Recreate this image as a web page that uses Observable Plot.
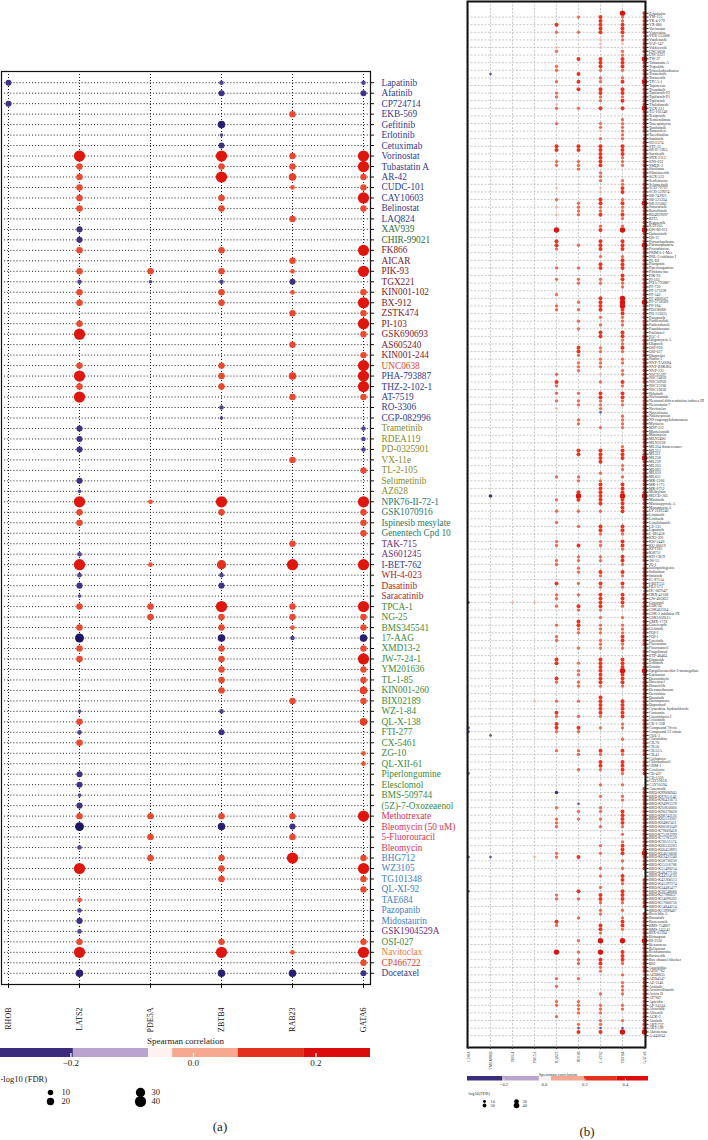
<!DOCTYPE html>
<html><head><meta charset="utf-8">
<script src="https://cdn.jsdelivr.net/npm/d3@7"></script>
<script src="https://cdn.jsdelivr.net/npm/@observablehq/plot@0.6"></script>
<style>
body{margin:0;background:#fff;}
#fig{position:relative;width:708px;height:1140px;overflow:hidden;font-family:"Liberation Serif",serif;background:#fff;}
.cap{position:absolute;font-size:13px;color:#222;width:40px;text-align:center;font-family:"Liberation Serif",serif;}
</style></head><body><div id="fig"></div>
<script>
// ---------- Panel (a) data ----------
const genesA = ["RHOB","LATS2","PDE5A","ZBTB4","RAB23","GATA6"];
const drugsA = ["Lapatinib","Afatinib","CP724714","EKB-569","Gefitinib","Erlotinib","Cetuximab","Vorinostat","Tubastatin A","AR-42","CUDC-101","CAY10603","Belinostat","LAQ824","XAV939","CHIR-99021","FK866","AICAR","PIK-93","TGX221","KIN001-102","BX-912","ZSTK474","PI-103","GSK690693","AS605240","KIN001-244","UNC0638","PHA-793887","THZ-2-102-1","AT-7519","RO-3306","CGP-082996","Trametinib","RDEA119","PD-0325901","VX-11e","TL-2-105","Selumetinib","AZ628","NPK76-II-72-1","GSK1070916","Ispinesib mesylate","Genentech Cpd 10","TAK-715","AS601245","I-BET-762","WH-4-023","Dasatinib","Saracatinib","TPCA-1","NG-25","BMS345541","17-AAG","XMD13-2","JW-7-24-1","YM201636","TL-1-85","KIN001-260","BIX02189","WZ-1-84","QL-X-138","FTI-277","CX-5461","ZG-10","QL-XII-61","Piperlongumine","Elesclomol","BMS-509744","(5Z)-7-Oxozeaenol","Methotrexate","Bleomycin (50 uM)","5-Fluorouracil","Bleomycin","BHG712","WZ3105","TG101348","QL-XI-92","TAE684","Pazopanib","Midostaurin","GSK1904529A","OSI-027","Navitoclax","CP466722","Docetaxel"];
// value codes per drug (one char per drug, "." = not significant)
const aRHOB  = ["b.b.......","..........","..........","..........","..........","..........","..........","..........","......"].join("");
const aLATS2 = [".......522","222.bb2.2a","22.25..252","5..bbb..bt","522..a5abt","2.2d22....","t2a2..bbtb","2d.a.5..1a","ba25.c"].join("");
const aPDE5A = ["..........","........2t","..........","..........","1.....1...","22........","..........","2.2.2.....","......"].join("");
const aZBTB4 = ["ab..ctb525",".22...2.2a","22.....222",".at.......","52....4ab.","522c22222.","a.b.......","2c..222...","..25.c"].join("");
const aRAB23 = ["...2...223","1..2...21b","1.2..2..3.","2.....2...","....2.5...","221a.....2","..........","2b2.5.....","...1.c"].join("");
const aGATA6 = ["ab.....552","252...5.5.","25252.2555","2..aaa.2..","5222..5...","522c252232",".3..11....","5...2522..","..252b"].join("");
// code -> [Spearman rho, -log10(FDR)]
const levelA = {t:[-0.11,0], a:[-0.12,5], b:[-0.16,13], c:[-0.21,21], d:[-0.27,28],
                "1":[0.12,6], "2":[0.15,15], "3":[0.18,21], "4":[0.22,30], "5":[0.28,40]};
const labelGroupA = ["NNNNNNNNNN","NNNNGGMMMM","MMMMMMMONN","NNNLLLLLLL","TTTTPPNRRR","gggggggggg","gggggggggg","CCCCBBBBBB","BPgorN"].join("");
const groupColorA = {N:"#313a8e", G:"#2d6b3e", M:"#7e2128", O:"#e6492e", L:"#8a8a2c", T:"#1f7a6c", P:"#6d2f7c", R:"#a4292d", g:"#3c8b3c", C:"#d5335f", B:"#3c80c4", o:"#f07c33", r:"#e23b3b"};
const colorDomainA = [-0.3,-0.2,-0.1,0,0.1,0.2,0.3];
const colorRangeA = ["#160f5c","#2b2175","#5a4b95","#f7eded","#ef5a3e","#e63a22","#dc0d08"];
const binEdgesA = [-0.315,-0.196,-0.073,-0.034,0.073,0.18,0.289];
const binColors = ["#3b2c7e","#b9a3cf","#fdf2f0","#f6a891","#e4301f","#da0c0c"];
const corrTicksA = [-0.2,0,0.2];
const sizeLegendVals = [10,20,30,40];

// ---------- Panel (b) data ----------
const genesB = ["CDH4","TMEM86B","NRG1","PDE5A","RAB23","RHOB","LATS2","ZBTB4","GATA6"];
const drugsB = ["Zebularine","YM-155","YK 4-279","VX-680","Vorinostat","Vincristine","VER-155008","Vandetanib","VAF-347","Valdecoxib",
"UNC0638","UNC0321","TW-37","Tubastatin A","Triptolide","Triazolothiadiazine","Trametinib","Tozasertib","TPCA-1","Topotecan",
"Tivantinib","Tipifarnib-P2","Tipifarnib-P1","Tipifarnib","Thalidomide","TGX-221","TG-101348","Teniposide","Temsirolimus","Tanespimycin",
"Tandutinib","Tamoxifen","Tacedinaline","Sunitinib","SU11274","STF-31","SR-II-138A","Sorafenib","SNX-2112","SNS-032",
"SMER-3","Sirolimus","Silmitasertib","SGX-523","Serdemetan","Selumetinib","SCH-79797","SCH-529074","SB-743921","SB-525334",
"SB-225002","Saracatinib","Ruxolitinib","RO4929097","RITA","Rigosertib","RAF265","QW-BI-011","Quizartinib","QS-11",
"Pyrazolanthrone","Purmorphamine","Procarbazine","PRIMA-1-Met","PRL-3 inhibitor I","PL-DI","Pluripotin","Piperlongumine","Pifithrin-mu","PIK-93",
"PI-103","PHA-793887","PF-750","PF-573228","PF-543","PF-4800567","PF-3758309","PF-184","PD318088","PD 153035",
"Pazopanib","Parthenolide","Parbendazole","Panobinostat","Paclitaxel","PAC-1","Oligomycin A","Olaparib","OSI-930","OSI-027",
"Obatoclax","Nutlin-3","NVP-TAE684","NVP-BSK805","NVP-231","NSC95397","NSC74859","NSC30930","NSC23766","NSC19630",
"Nilotinib","Niclosamide","Neuronal differentiation inducer III","Necrostatin-7","Navitoclax","Narciclasine","Nakiterpiosin","N9-isopropylolomoucine","Myriocin","MST-312",
"Momelotinib","Mitomycin","MLN2480","MLN2238","ML334 diastereomer","ML312","ML311","ML258","ML239","ML203",
"ML083","ML050","ML031","MK-2206","MK-1775","MK-0752","Methylstat","MGCD-265","Masitinib","Marinopyrrole A",
"Manumycin A","LY-2183240","Linsitinib","Linifanib","Lenalidomide","LE-135","Lapatinib","L-685458","KX2-391","KW-2449",
"KU-60019","KPT185","Ki8751","KH-CB19","JW-55","JQ-1","Isoliquiritigenin","Indisulam","Imatinib","IC-87114",
"I-BET151","HLI-373","HC-067047","HBX-41108","GW-405833","Gossypol","GSK-J4","GSK461364","GSK-3 inhibitor IX","GSK1059615",
"GMX-1778","Ganetespib","Gefitinib","FQI-2","FQI-1","Foretinib","Fluvastatin","Fluorouracil","Fingolimod","ETP-46464",
"Etoposide","Erlotinib","Erastin","Epigallocatechin-3-monogallate","Entinostat","Doxorubicin","Docetaxel","Dinaciclib","Dexamethasone","Decitabine",
"Dasatinib","Darinaparsin","Daporinad","Cytarabine hydrochloride","Curcumin","Cucurbitacin I","Crizotinib","CR-1-31B","Compound 7d-cis","Compound 23 citrate",
"COL-3","Clofarabine","CIL70","CIL56","CIL55A","CIL41","Ciclopirox","Chlorambucil","CHM-1","Cerulenin",
"CD-437","CD-1530","CAY10618","CAY10594","Canertinib","BRD-K99006945","BRD-K97651142","BRD-K96431673","BRD-K94991378","BRD-K92856060",
"BRD-K90370028","BRD-K88742110","BRD-K85133207","BRD-K84807411","BRD-K80183349","BRD-K79669418","BRD-K75293299","BRD-K71781559","BRD-K70511574","BRD-K66532283",
"BRD-K66453893","BRD-K64610608","BRD-K63431240","BRD-K58730230","BRD-K55116708","BRD-K51490254","BRD-K48477130","BRD-K44224150","BRD-K42260513","BRD-K41597374",
"BRD-K34485477","BRD-K30748066","BRD-K27986637","BRD-K24690302","BRD-K17060750","BRD-K14844214","BRD-K13999467","Brefeldin A","Bosutinib","Bortezomib",
"BMS-754807","BMS-345541","BIX-01294","Birinapant","BI-2536","Bexarotene","Belinostat","Bendamustine","Barasertib","Bax channel blocker",
"B02","Azacitidine","AZD7762","AZD8055","AZD4547","AZ-3146","Axitinib","Avrainvillamide","Avicin D","AT7867",
"Apicidin","AP-24534","Alvocidib","Alisertib","AGK-2","Afatinib","ABT-737","ABT-199","Abiraterone","A-443654"];
// sparse columns: drug index -> code
const bCDH4 = {155:"b",188:"b",189:"b",200:"b",222:"b",231:"b"};
const bTMEM86B = {16:"b",127:"B",190:"b",222:"b"};
const bNRG1 = {155:"s"};
const bPDE5A = {155:"s",181:"s",222:"s"};
const bRAB23 = ["...r.m...s","m...mm..m.",".mm.sm...m",".....rr..m","m.....s..m",".s.s...R..","rrm....m..","m...m..mm.","..........",".....m.rm.",
"m.m.s.....","..........","..m.....m.",".m..m....m","m...mm....","r..mm.m...",".m..mm....","rr...rm...",".m..rm.rrm","....m.....",
".....B...m","..mmm.....",".mm.......","..mm.....r","m......R..","....m.m...","mm..m....."].join("");
const bRHOB = [".m...m....","..r...r.r.","r....m....",".....rr..m","mm........","mmmm......",".m.....m..","mm....m.m.",".m.m....rr","m.mmm.....",
"m.mm...mm.",".....rr...","..mm..rRr.",".m...m....","r..mm.mm..","m..m..rm..","rrmm...m..",".m.mm.mm..",".m...m..rm","....mm...m",
"........b.","m.m.......","..r.......",".r.m....m.","....m..m.m","m...m.....","mmmm..mbr."].join("");
const bLATS2 = [".rrrrr.sss","..rrrm.mm.","rrmm.r...m","ms.m.rrrrr","r.mmm.ss.r","rmmr..mr..","rrr.m.rr..","mm...rrrr.","m.m.rr..mm",".mmm.s.m..",
"rrmmmb...m",".....rrrr.",".m.mrrrrrr",".m...rrm.m","m..mm..rm.","rm.rrrrm.m",".mmm.mmm..","rrrrrrrm..","rrrrrm..m.","....rm.rrm",
"...m..m..m","m.m.m....m",".m...m.m..","m.rrm.mm..","rrm.R..R.r","rmm.....m.",".mmm.mmbr."].join("");
const bZBTB4 = ["Rmmrrrmms.","mmrrrm.mr.","rrmr.r..mm","mmmm.rrrmm","m...mmrr.m","rmmrm.mR..","rrr.mrrr.r","rmm..RRRrr","mmm.rrmmrm",".mm.mm.rm.",
"rrmm..mmmm","....mrrr.m","m.m.rrrRrr","rr...rrm.r","rm.rrm.rm.","rm.rrrm..m",".mmmrrmm..","rrrRrrrm..",".rrrrr.mm.",".m..rm.rrr",
"m..m..mm..","rrrrm.m.mr","rr.m.m.rrm",".rrrm.m.mr","rm..R..rrr","m..m.mmmm.",".mm..m.bR."].join("");
const bGATA6 = ["rrrrrrmrrr","rmRrrrrrRr","rrrrrRrrrr","rrmrrrrrrr","rrrrmrrrrr","RrrrrrrRrr","rRrrrrrrrr","rrrrrrRrrr","rrrrmrrrrr","rrrrrrrrmr",
"rrrrrrrrrr","rrrrrrrRrr","rrrrrrrRrr","rrrrrrrrrr","rrrrrmrrrr","rrmrrrrrrr","rrrrrrrmrr","rrrRrrrrrr","rrrrrrrrrr","rrrrrrmrrr",
"r...rrrrrr","rrrrrrrrrr","rRrrrr..rr","rrrrrr.rrr","rrrrRrrrrr","rrrmrrrrrr","rrrrrrrrR."].join("");
const levelB = {s:[0.10,6], m:[0.17,14], r:[0.26,22], R:[0.40,38], b:[-0.15,8], B:[-0.26,16]};
const colorDomainB = [-0.38,-0.2,-0.05,0.05,0.17,0.26,0.45];
const colorRangeB = ["#1f1668","#4a3c8e","#9d8cc0","#f8e0da","#ef6a4f","#e73520","#d50808"];
const binEdgesB = [-0.38,-0.207,-0.025,0.035,0.198,0.36,0.514];
const corrTicksB = [-0.2,0,0.2,0.4];

// ---------- build tables ----------
const colsA = [aRHOB,aLATS2,aPDE5A,aZBTB4,aRAB23,aGATA6];
const dataA = [];
genesA.forEach((g,j)=>{ const s=colsA[j]; drugsA.forEach((d,i)=>{ const c=s[i]; if(c && c!=="."){ dataA.push({gene:g,drug:d,rho:levelA[c][0],fdr:levelA[c][1]}); } }); });
const colsB = [bCDH4,bTMEM86B,bNRG1,bPDE5A,bRAB23,bRHOB,bLATS2,bZBTB4,bGATA6];
const dataB = [];
genesB.forEach((g,j)=>{ const s=colsB[j]; drugsB.forEach((d,i)=>{ const c=s[i]; if(c && c!=="."){ dataB.push({gene:g,drug:d,rho:levelB[c][0],fdr:levelB[c][1]}); } }); });
const binsA = binColors.map((c,i)=>({lo:binEdgesA[i],hi:binEdgesA[i+1],color:c}));
const binsB = binColors.map((c,i)=>({lo:binEdgesB[i],hi:binEdgesB[i+1],color:c}));
const sizeLeg = sizeLegendVals.map((v,i)=>({v, col: Math.floor(i/2), row: i%2}));

const fig = document.getElementById("fig");
function place(el,left,top){ el.style.position="absolute"; el.style.left=left+"px"; el.style.top=top+"px"; fig.appendChild(el); }
const serif = "Liberation Serif, Times New Roman, serif";

// ---------- Panel (a) ----------
const labelMarksA = Object.entries(groupColorA).map(([k,col]) =>
  Plot.text(drugsA.filter((d,i)=>labelGroupA[i]===k), {y:d=>d, text:d=>d, frameAnchor:"right", dx:11, textAnchor:"start", fill:col, fontSize:9.3}));
const pA = Plot.plot({
  width:462, height:1035, marginLeft:1, marginRight:92, marginTop:71, marginBottom:51,
  style:{fontFamily:serif, fontSize:"9px", background:"transparent", color:"#111"},
  x:{type:"point", domain:genesA, padding:0.07},
  y:{type:"point", domain:drugsA, padding:1.07},
  r:{type:"linear", domain:[0,40], range:[1.8,5.6]},
  color:{type:"linear", domain:colorDomainA, range:colorRangeA},
  marks:[
    Plot.ruleY(drugsA, {y:d=>d, stroke:"#222", strokeWidth:1, strokeDasharray:"1,2.1"}),
    Plot.ruleX(genesA, {x:d=>d, stroke:"#222", strokeWidth:1, strokeDasharray:"1,2"}),
    Plot.frame({stroke:"#111", strokeWidth:1.2}),
    Plot.axisX({anchor:"bottom", tickSize:4, tickPadding:19, tickRotate:-90, fontSize:8, label:null}),
    Plot.axisY({anchor:"right", ticks:drugsA, tickSize:3, tickFormat:()=>"", label:null}),
    ...labelMarksA,
    Plot.dot(dataA, {x:"gene", y:"drug", r:"fdr", fill:"rho", stroke:"none"})
  ]
});
place(pA,0,0);

const cbA = Plot.plot({
  width:372, height:40, marginLeft:0, marginRight:2, marginTop:18, marginBottom:13,
  style:{fontFamily:serif, fontSize:"9px", background:"transparent", color:"#222"},
  x:{domain:[binEdgesA[0], binEdgesA[binEdgesA.length-1]]},
  y:{domain:[0,1], axis:null},
  marks:[
    Plot.rect(binsA, {x1:"lo", x2:"hi", y1:0, y2:1, fill:"color"}),
    Plot.tickX(corrTicksA, {x:d=>d, stroke:"white", strokeWidth:1.2, insetTop:5}),
    Plot.axisX({ticks:corrTicksA, tickSize:0, tickPadding:2, tickFormat:d3.format(".1f"), fontSize:9, label:null}),
    Plot.text(["Spearman correlation"], {frameAnchor:"top", dy:-11, fontSize:9, fill:"#222"})
  ]
});
place(cbA,0,1030);

const slA = Plot.plot({
  width:230, height:48, marginLeft:5, marginRight:45, marginTop:21, marginBottom:9,
  style:{fontFamily:serif, fontSize:"9px", background:"transparent", color:"#222"},
  x:{type:"point", domain:[0,1], axis:null},
  y:{type:"point", domain:[0,1], axis:null},
  r:{type:"linear", domain:[0,40], range:[1.8,5.6]},
  marks:[
    Plot.dot(sizeLeg, {x:"col", y:"row", r:"v", fill:"black"}),
    Plot.text(sizeLeg, {x:"col", y:"row", text:"v", dx:11, textAnchor:"start", fontSize:8.5, fill:"#222"}),
    Plot.text(["-log10 (FDR)"], {frameAnchor:"top-left", dx:-5, dy:-12, textAnchor:"start", fontSize:8.5, fill:"#222"})
  ]
});
place(slA,0,1066);

// ---------- Panel (b) ----------
const pB = Plot.plot({
  width:246, height:1076, marginLeft:5, marginRight:63, marginTop:1, marginBottom:29,
  style:{fontFamily:serif, fontSize:"3.9px", background:"transparent", color:"#333"},
  x:{type:"point", domain:genesB, padding:0},
  y:{type:"point", domain:drugsB, padding:3.1},
  r:{type:"linear", domain:[0,40], range:[1,2.8]},
  color:{type:"linear", domain:colorDomainB, range:colorRangeB},
  marks:[
    Plot.ruleY(drugsB.filter((d,i)=>i%2===1), {y:d=>d, stroke:"#a8a8a8", strokeWidth:0.6, strokeDasharray:"2,1.5"}),
    Plot.ruleX(genesB, {x:d=>d, stroke:"#a8a8a8", strokeWidth:0.6, strokeDasharray:"2,1.5"}),
    Plot.dot(dataB, {x:"gene", y:"drug", r:"fdr", fill:"rho", stroke:"none"}),
    Plot.frame({stroke:"#111", strokeWidth:2}),
    Plot.axisX({anchor:"bottom", tickSize:2, tickPadding:2, tickRotate:-90, fontSize:3.9, label:null}),
    Plot.axisY({anchor:"right", ticks:drugsB, tickSize:2.5, tickPadding:1, fontSize:3.9, label:null})
  ]
});
place(pB,462,0);

const cbB = Plot.plot({
  width:181, height:24, marginLeft:0, marginRight:0, marginTop:10, marginBottom:9.5,
  style:{fontFamily:serif, fontSize:"4.5px", background:"transparent", color:"#333"},
  x:{domain:[binEdgesB[0], binEdgesB[binEdgesB.length-1]]},
  y:{domain:[0,1], axis:null},
  marks:[
    Plot.rect(binsB, {x1:"lo", x2:"hi", y1:0, y2:1, fill:"color"}),
    Plot.tickX(corrTicksB, {x:d=>d, stroke:"white", strokeWidth:0.8, insetTop:2.5}),
    Plot.axisX({ticks:corrTicksB, tickSize:0, tickPadding:1.5, tickFormat:d3.format(".1f"), fontSize:4.5, label:null}),
    Plot.text(["Spearman correlation"], {frameAnchor:"top", dy:-4, fontSize:4.5, fill:"#333"})
  ]
});
place(cbB,467,1066);

const slB = Plot.plot({
  width:110, height:24, marginLeft:6, marginRight:40, marginTop:12, marginBottom:4,
  style:{fontFamily:serif, fontSize:"4.3px", background:"transparent", color:"#333"},
  x:{type:"point", domain:[0,1], axis:null},
  y:{type:"point", domain:[0,1], axis:null},
  r:{type:"linear", domain:[0,40], range:[1,2.8]},
  marks:[
    Plot.dot(sizeLeg, {x:"col", y:"row", r:"v", fill:"black"}),
    Plot.text(sizeLeg, {x:"col", y:"row", text:"v", dx:6, textAnchor:"start", fontSize:4.3, fill:"#333"}),
    Plot.text(["-log10(FDR)"], {frameAnchor:"top-left", dx:-1, dy:-8, textAnchor:"start", fontSize:4.3, fill:"#333"})
  ]
});
place(slB,462,1087);

// captions
const capA = document.createElement("div"); capA.className="cap"; capA.textContent="(a)"; capA.style.left="200px"; capA.style.top="1119px"; fig.appendChild(capA);
const capB = document.createElement("div"); capB.className="cap"; capB.textContent="(b)"; capB.style.left="567px"; capB.style.top="1124px"; fig.appendChild(capB);
</script></body></html>
